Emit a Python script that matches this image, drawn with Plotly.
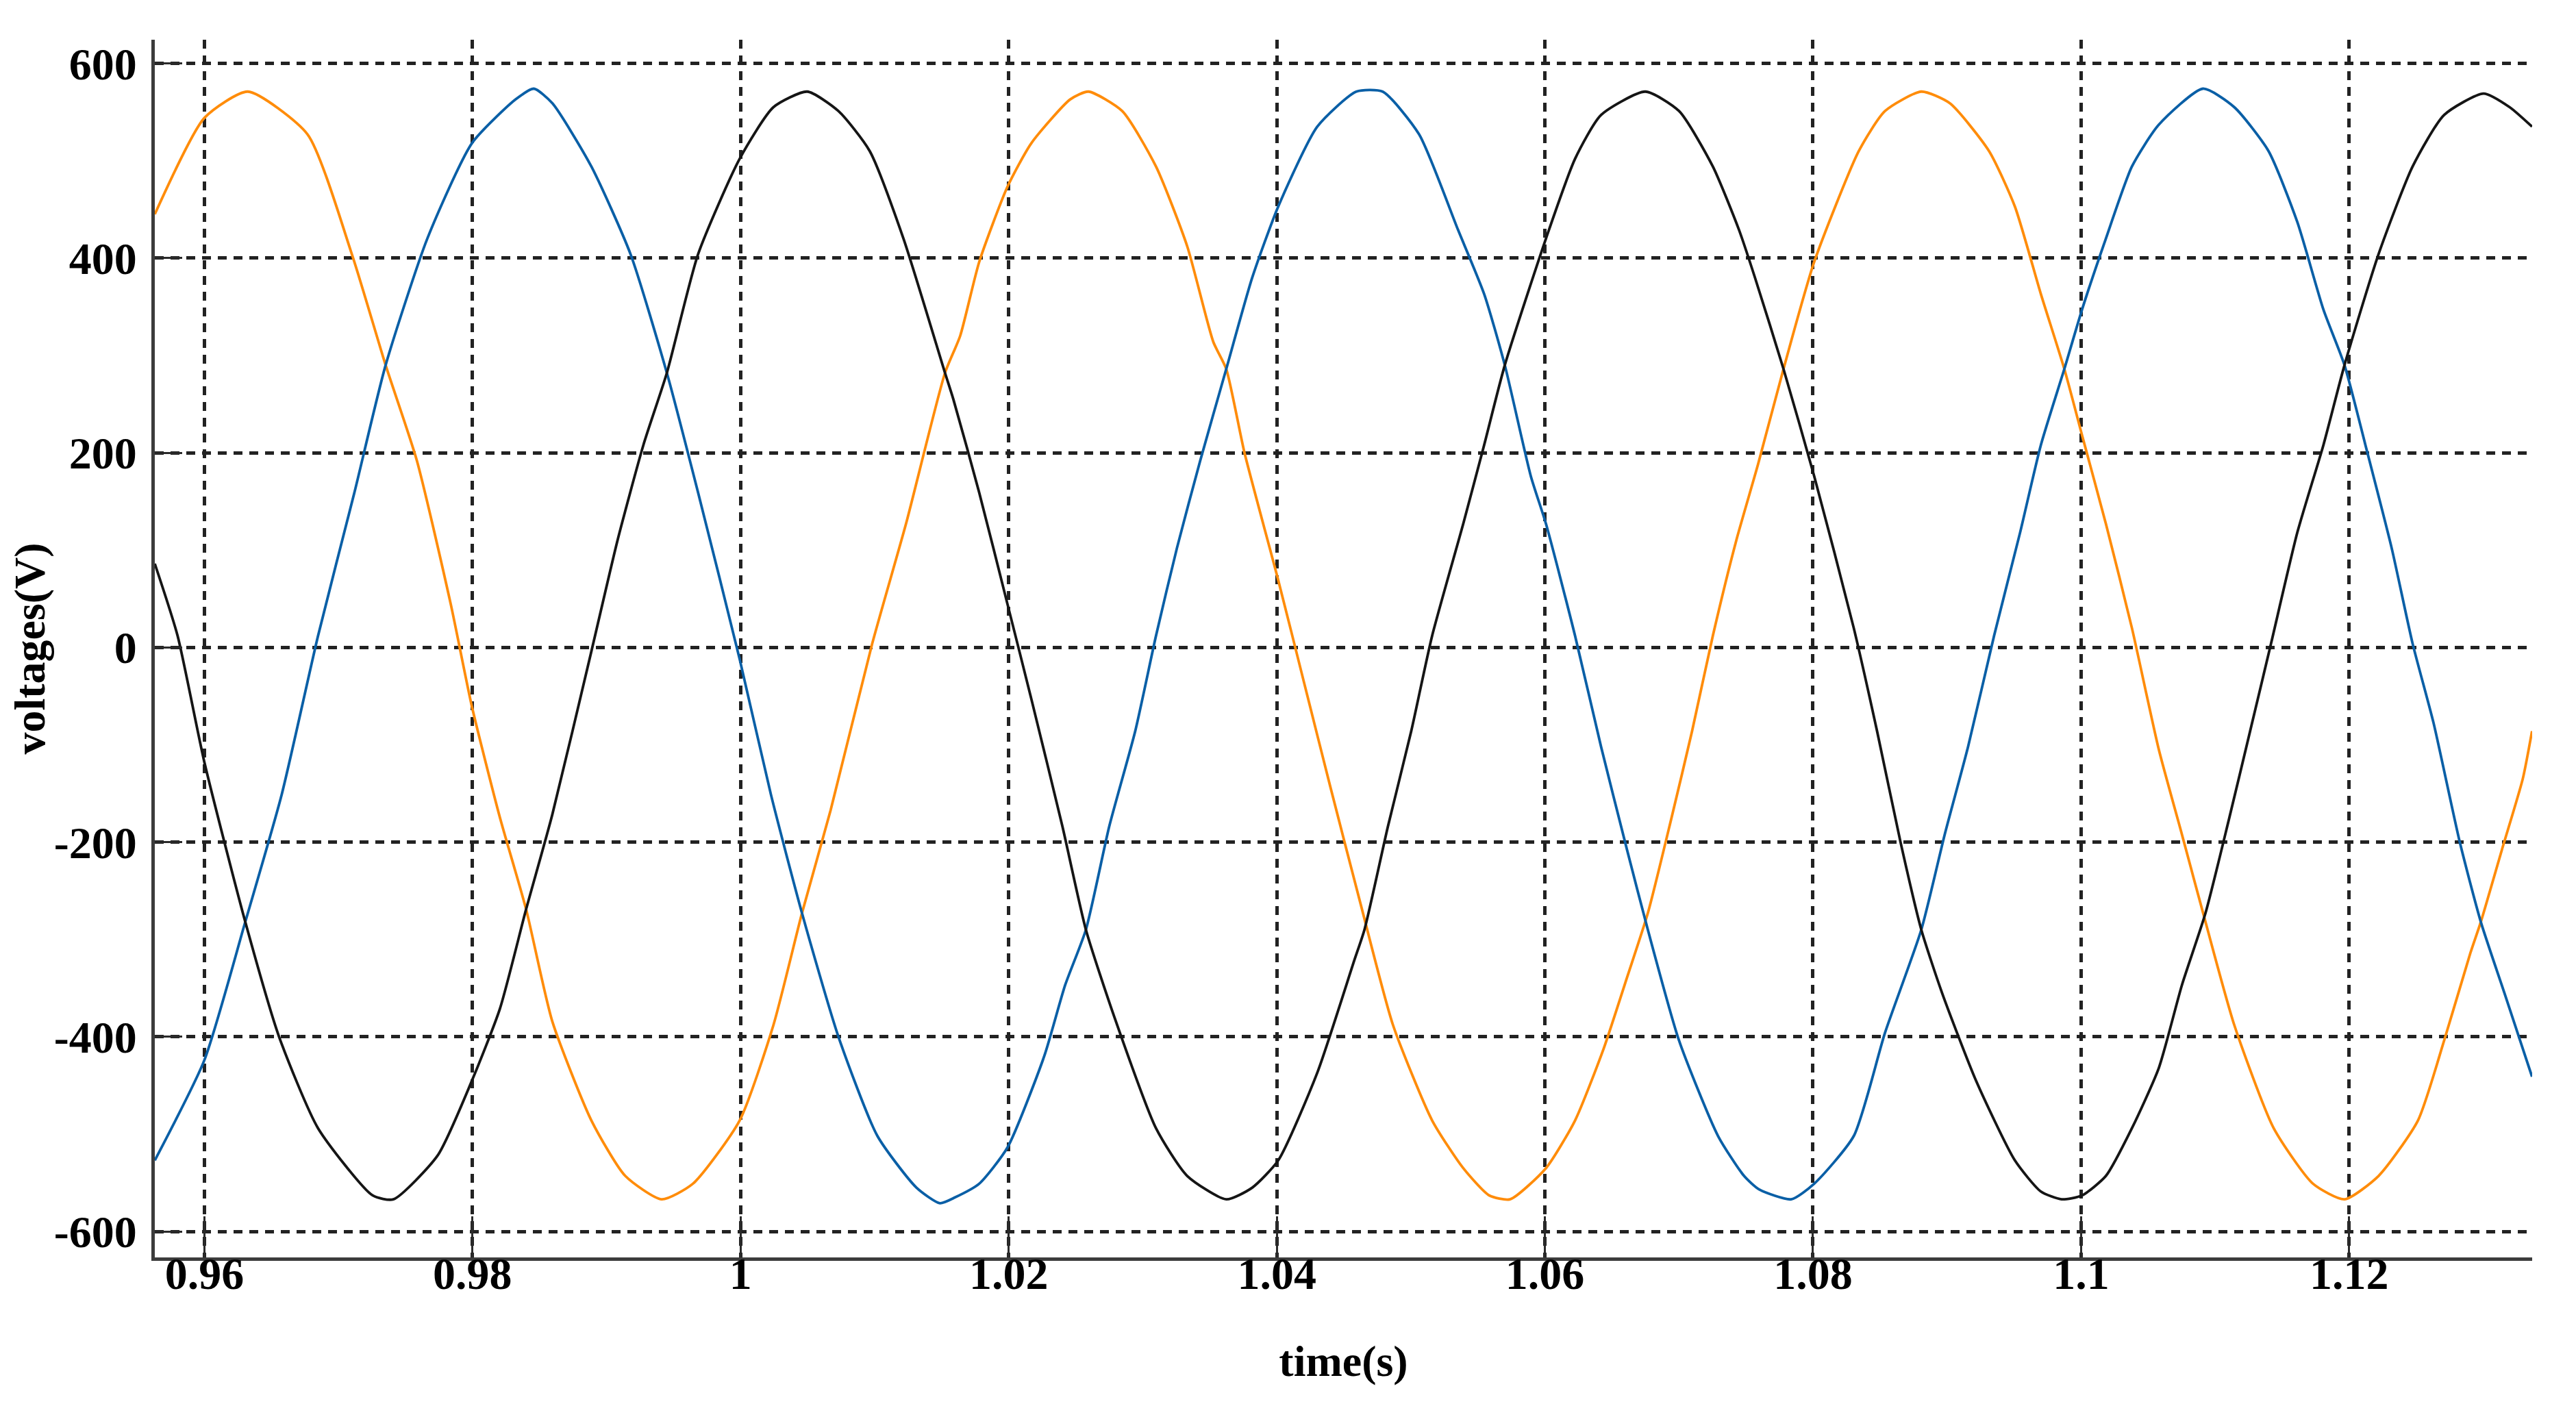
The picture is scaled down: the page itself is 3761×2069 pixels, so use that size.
import plotly.graph_objects as go

# ---- data ----
t_orange = [0.95630, 0.96000, 0.96324, 0.96770, 0.97100, 0.97352, 0.97585, 0.97837, 0.97996, 0.98205,
            0.98400, 0.98595, 0.98887, 0.99140, 0.99411, 0.99644, 0.99993, 1.00245, 1.00458, 1.00672,
            1.00982, 1.01234, 1.01525, 1.01638, 1.01780, 1.01990, 1.02169, 1.02459, 1.02595, 1.02847,
            1.03099, 1.03332, 1.03526, 1.03623, 1.03759, 1.04011, 1.04205, 1.04399, 1.04628, 1.04867,
            1.05159, 1.05391, 1.05585, 1.05740, 1.06008, 1.06225, 1.06439, 1.06613, 1.06768, 1.06943,
            1.07098, 1.07253, 1.07428, 1.07590, 1.07780, 1.08009, 1.08342, 1.08537, 1.08808, 1.09021,
            1.09313, 1.09506, 1.09700, 1.09875, 1.10011, 1.10185, 1.10379, 1.10580, 1.10752, 1.10928,
            1.11143, 1.11437, 1.11730, 1.11965, 1.12219, 1.12513, 1.12708, 1.12904, 1.12982, 1.13139,
            1.13295, 1.13364]
v_orange = [445, 544, 571, 527, 404, 290, 192, 45, -61, -175,
            -269, -384, -486, -543, -567, -551, -486, -388, -273, -167,
            4, 127, 282, 320, 396, 473, 518, 563, 571, 551,
            494, 412, 314, 286, 200, 69, -37, -143, -265, -388,
            -486, -535, -563, -567, -535, -486, -412, -339, -273, -176,
            -86, 12, 110, 188, 286, 396, 510, 551, 571, 559,
            510, 453, 363, 286, 216, 127, 20, -105, -192, -282,
            -388, -494, -551, -567, -543, -486, -404, -314, -282, -208,
            -135, -86]

t_blue = [0.95630, 0.96000, 0.96305, 0.96577, 0.96848, 0.97119, 0.97352, 0.97663, 0.97996, 0.98322,
          0.98458, 0.98596, 0.98887, 0.99179, 0.99450, 0.99683, 0.99993, 1.00226, 1.00458, 1.00730,
          1.01021, 1.01312, 1.01487, 1.01600, 1.01780, 1.01990, 1.02265, 1.02421, 1.02576, 1.02750,
          1.02944, 1.03099, 1.03255, 1.03429, 1.03623, 1.03817, 1.04011, 1.04302, 1.04593, 1.04790,
          1.05062, 1.05352, 1.05547, 1.05701, 1.05895, 1.06008, 1.06225, 1.06419, 1.06613, 1.06768,
          1.07001, 1.07292, 1.07486, 1.07600, 1.07838, 1.08009, 1.08304, 1.08537, 1.08808, 1.08983,
          1.09157, 1.09351, 1.09545, 1.09700, 1.09875, 1.10007, 1.10185, 1.10379, 1.10580, 1.10909,
          1.11143, 1.11398, 1.11613, 1.11808, 1.11965, 1.12121, 1.12317, 1.12473, 1.12630, 1.12825,
          1.12982, 1.13158, 1.13364]
v_blue = [-527, -424, -282, -151, 12, 159, 290, 420, 518, 563,
          574, 559, 494, 404, 282, 159, -12, -151, -273, -400,
          -502, -555, -571, -565, -551, -514, -420, -347, -290, -184,
          -86, 12, 102, 192, 286, 380, 453, 535, 571, 571,
          527, 429, 363, 290, 176, 127, 12, -102, -208, -290,
          -404, -502, -543, -557, -567, -551, -502, -396, -290, -192,
          -102, 12, 118, 208, 286, 347, 420, 494, 537, 574,
          555, 510, 437, 347, 290, 208, 102, 4, -78, -200,
          -282, -355, -441]

t_black = [0.95630, 0.95800, 0.96000, 0.96305, 0.96557, 0.96848, 0.97255, 0.97410, 0.97740, 0.97996,
           0.98205, 0.98400, 0.98595, 0.98887, 0.99082, 0.99275, 0.99450, 0.99683, 0.99993, 1.00245,
           1.00497, 1.00730, 1.00963, 1.01215, 1.01525, 1.01587, 1.01780, 1.01990, 1.02169, 1.02401,
           1.02576, 1.02789, 1.03099, 1.03332, 1.03623, 1.03817, 1.04011, 1.04302, 1.04577, 1.04654,
           1.04829, 1.05003, 1.05159, 1.05391, 1.05547, 1.05701, 1.06008, 1.06225, 1.06419, 1.06749,
           1.07001, 1.07253, 1.07448, 1.07567, 1.07780, 1.08009, 1.08304, 1.08478, 1.08653, 1.08808,
           1.08963, 1.09216, 1.09506, 1.09700, 1.09855, 1.10007, 1.10185, 1.10379, 1.10580, 1.10752,
           1.10928, 1.11104, 1.11261, 1.11417, 1.11613, 1.11808, 1.11965, 1.12219, 1.12473, 1.12708,
           1.13002, 1.13197, 1.13364]
v_black = [86, 12, -118, -282, -400, -494, -563, -567, -522, -445,
           -371, -269, -172, -4, 110, 208, 282, 404, 502, 555,
           571, 551, 510, 420, 282, 255, 159, 45, -53, -184,
           -290, -380, -494, -543, -567, -555, -527, -437, -322, -290,
           -184, -86, 12, 127, 208, 290, 420, 502, 547, 571,
           551, 494, 429, 380, 286, 176, 20, -86, -200, -290,
           -355, -445, -527, -559, -567, -563, -543, -494, -432, -347,
           -273, -176, -86, 4, 118, 208, 290, 404, 494, 547,
           569, 555, 535]

x_tickvals = [0.96, 0.98, 1.00, 1.02, 1.04, 1.06, 1.08, 1.10, 1.12]
x_ticktext = ["0.96", "0.98", "1", "1.02", "1.04", "1.06", "1.08", "1.1", "1.12"]
y_tickvals = [-600, -400, -200, 0, 200, 400, 600]
y_ticktext = ["-600", "-400", "-200", "0", "200", "400", "600"]

FONT = "Liberation Serif"

fig = go.Figure()
for t, v, col in [(t_orange, v_orange, "#ff8c0a"),
                  (t_blue, v_blue, "#0a5fa6"),
                  (t_black, v_black, "#151515")]:
    fig.add_trace(go.Scatter(x=t, y=v, mode="lines",
                             line=dict(color=col, width=3.8, shape="spline", smoothing=0.6),
                             showlegend=False, hoverinfo="skip"))

axis_common = dict(
    showgrid=True, gridcolor="#222222", gridwidth=4.5, griddash="13px,10px",
    showline=True, linecolor="#3c3c3c", linewidth=5,
    ticks="inside", tickcolor="#2a2a2a", tickwidth=3,
    zeroline=False, mirror=False,
    tickfont=dict(family=FONT, size=66, color="black", weight="bold"),
)

fig.update_xaxes(range=[0.9563, 1.13365], tickvals=x_tickvals, ticktext=x_ticktext,
                 ticklen=60, ticklabelstandoff=-38,
                 title=dict(text="time(s)", font=dict(family=FONT, size=64, color="black", weight="bold"),
                            standoff=70),
                 **axis_common)
fig.update_yaxes(range=[-626.7, 624.3], tickvals=y_tickvals, ticktext=y_ticktext,
                 ticklen=40, ticklabelstandoff=8,
                 title=dict(text="voltages(V)", font=dict(family=FONT, size=64, color="black", weight="bold"),
                            standoff=0),
                 **axis_common)

fig.update_layout(width=3761, height=2069,
                  margin=dict(l=218, r=72, t=50, b=241),
                  paper_bgcolor="white", plot_bgcolor="white")

fig.write_html("out.html")
